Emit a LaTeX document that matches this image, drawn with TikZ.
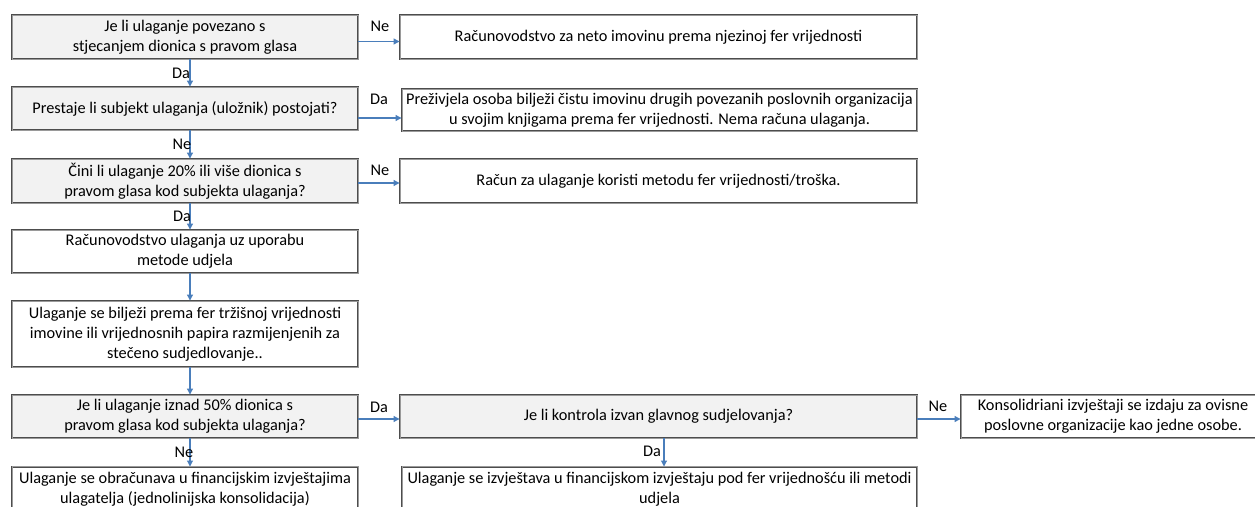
\documentclass[tikz,border=0pt]{standalone}
\usepackage{fontspec}
\setmainfont{Carlito}
\usetikzlibrary{arrows.meta}
\definecolor{boxline}{HTML}{4D4D4D}
\definecolor{boxinner}{HTML}{9A9A9A}
\definecolor{decfill}{HTML}{F2F2F2}
\definecolor{arrowblue}{HTML}{4A7EBB}
\tikzset{
  box/.style={draw=boxline, double=boxinner, double distance=1pt, line width=0.9pt,
    fill=white, align=center, inner sep=2pt,
    font=\fontsize{16.3}{19.9}\selectfont},
  dec/.style={box, fill=decfill},
  arr/.style={draw=arrowblue, line width=1.1pt, -{Triangle[length=6pt,width=6pt]}},
  lab/.style={font=\fontsize{16.3}{19.9}\selectfont, inner sep=0pt}
}
\begin{document}
\begin{tikzpicture}[x=1pt,y=-1pt]
\useasboundingbox (0,0) rectangle (1255,506);
\clip (0,0) rectangle (1255,506);
% left column
\node[dec, minimum width=346, minimum height=44] (A) at (185,37) {Je li ulaganje povezano s\\stjecanjem dionica s pravom glasa};
\node[dec, minimum width=346, minimum height=43] (B) at (185,108.5) {Prestaje li subjekt ulaganja (uložnik) postojati?};
\node[dec, minimum width=346, minimum height=44] (C) at (185,181) {Čini li ulaganje 20\% ili više dionica s\\pravom glasa kod subjekta ulaganja?};
\node[box, minimum width=346, minimum height=43] (D) at (185,251.5) {Računovodstvo ulaganja uz uporabu\\metode udjela};
\node[box, minimum width=346, minimum height=66] (E) at (185,334) {Ulaganje se bilježi prema fer tržišnoj vrijednosti\\imovine ili vrijednosnih papira razmijenjenih za\\stečeno sudjedlovanje..};
\node[dec, minimum width=346, minimum height=43] (F) at (185,416.5) {Je li ulaganje iznad 50\% dionica s\\pravom glasa kod subjekta ulaganja?};
\node[box, minimum width=346, minimum height=44, anchor=north] (G) at (185,466.5) {Ulaganje se obračunava u financijskim izvještajima\\ulagatelja (jednolinijska konsolidacija)};
% right column
\node[box, minimum width=517, minimum height=44] (NA) at (658.5,37) {Računovodstvo za neto imovinu prema njezinoj fer vrijednosti};
\node[box, minimum width=515, minimum height=42] (DB) at (659.5,110) {Preživjela osoba bilježi čistu imovinu drugih povezanih poslovnih organizacija\\u svojim knjigama prema fer vrijednosti. Nema računa ulaganja.};
\node[box, minimum width=517, minimum height=44] (NC) at (658.5,181) {Račun za ulaganje koristi metodu fer vrijednosti/troška.};
\node[dec, minimum width=517, minimum height=43] (H) at (658.5,416.5) {Je li kontrola izvan glavnog sudjelovanja?};
\node[box, minimum width=515, minimum height=44, anchor=north] (J) at (659.5,466.5) {Ulaganje se izvještava u financijskom izvještaju pod fer vrijednošću ili metodi\\udjela};
\node[box, minimum width=304, minimum height=43] (I) at (1113,416.5) {Konsolidriani izvještaji se izdaju za ovisne\\poslovne organizacije kao jedne osobe.};
% helper coordinates
\coordinate (vx) at (190,0);
\coordinate (vh) at (664,0);
\coordinate (y1) at (0,41.5);
\coordinate (y2) at (0,118);
\coordinate (y3) at (0,183);
\coordinate (y4) at (0,419);
% vertical arrows
\draw[arr] (A.south -| vx) -- (B.north -| vx);
\draw[arr] (B.south -| vx) -- (C.north -| vx);
\draw[arr] (C.south -| vx) -- (D.north -| vx);
\draw[arr] (D.south -| vx) -- (E.north -| vx);
\draw[arr] (E.south -| vx) -- (F.north -| vx);
\draw[arr] (F.south -| vx) -- (G.north -| vx);
\draw[arr] (H.south -| vh) -- (J.north -| vh);
% horizontal arrows
\draw[arr] (A.east |- y1) -- (NA.west |- y1);
\draw[arr] (B.east |- y2) -- (DB.west |- y2);
\draw[arr] (C.east |- y3) -- (NC.west |- y3);
\draw[arr] (F.east |- y4) -- (H.west |- y4);
\draw[arr] (H.east |- y4) -- (I.west |- y4);
% labels
\node[lab] (l1) at (380,26) {Ne};
\node[lab] (l2) at (379,99) {Da};
\node[lab] (l3) at (380,170) {Ne};
\node[lab] (l4) at (379,407) {Da};
\node[lab] (l5) at (938,406) {Ne};
\node[lab] (l6) at (181,73) {Da};
\node[lab] (l7) at (182,144) {Ne};
\node[lab] (l8) at (182,216) {Da};
\node[lab] (l9) at (184,452) {Ne};
\node[lab] (l10) at (652,451) {Da};
\end{tikzpicture}
\end{document}
